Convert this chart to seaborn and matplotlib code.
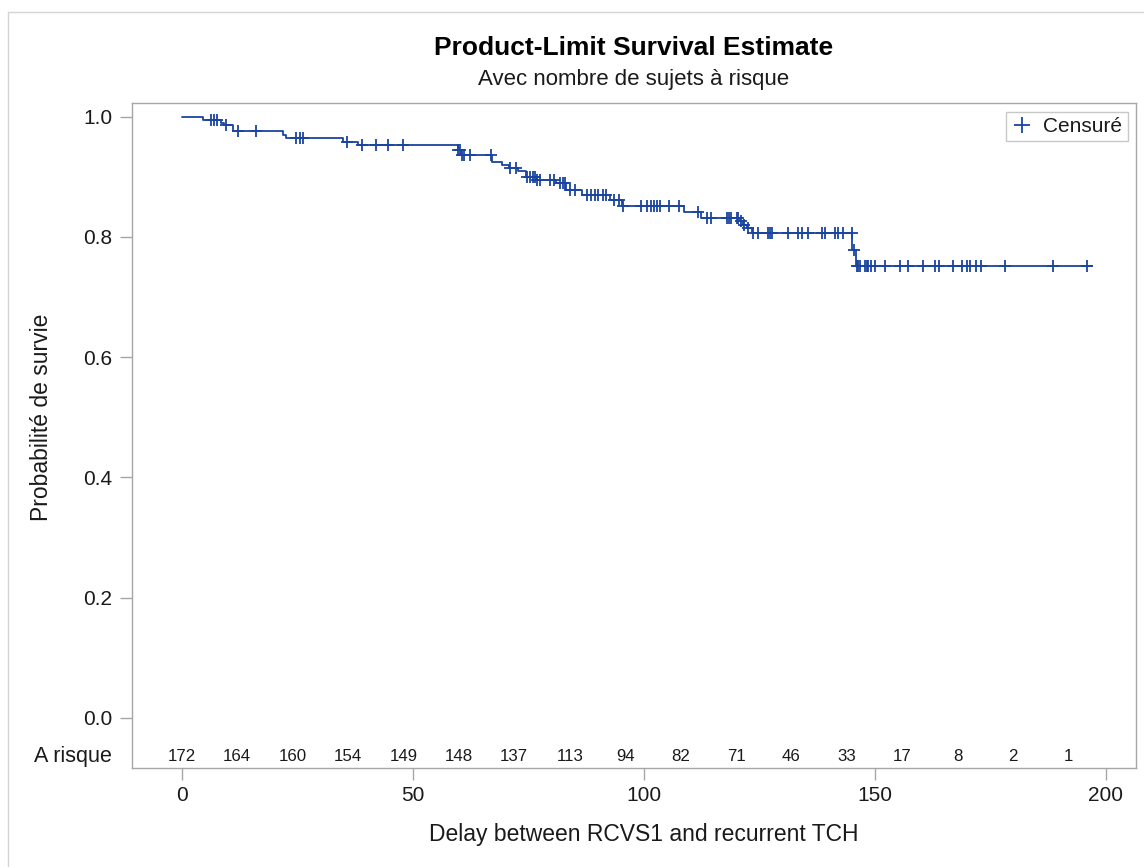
import numpy as np
import pandas as pd
import matplotlib
matplotlib.use("Agg")
import matplotlib.pyplot as plt
import seaborn as sns
from matplotlib.patches import Rectangle
from matplotlib.lines import Line2D

# ---- data ----
step_times = [0.0, 4.7, 8.5, 9.2, 11.2, 21.9, 22.5, 35.0, 38.2, 59.8, 60.5,
              67.1, 69.3, 70.8, 72.8, 74.6, 77.0, 81.0, 83.2, 86.6, 92.8,
              95.4, 108.7, 112.4, 120.8, 121.6, 122.4, 123.4, 145.2, 145.9]
step_surv = [1.000, 0.995, 0.990, 0.986, 0.976, 0.970, 0.964, 0.958, 0.952,
             0.944, 0.936, 0.924, 0.920, 0.914, 0.909, 0.900, 0.895, 0.890,
             0.878, 0.870, 0.861, 0.851, 0.842, 0.831, 0.826, 0.820, 0.815,
             0.806, 0.778, 0.752]
end_time = 197.0
censor_times = [6.3, 7.0, 7.6, 9.6, 12.3, 16.1, 24.7, 25.6, 26.3, 35.7, 39.0,
                42.0, 44.7, 48.0, 59.9, 60.2, 60.6, 61.1, 62.4, 67.0, 71.1,
                72.4, 74.7, 75.5, 76.0, 76.5, 77.0, 77.5, 79.7, 80.7, 82.0,
                82.5, 83.0, 84.1, 85.1, 87.7, 88.7, 89.5, 90.2, 91.2, 91.9,
                93.5, 94.6, 95.6, 99.4, 100.8, 101.5, 102.2, 102.9, 103.6,
                105.5, 107.6, 111.8, 113.8, 114.5, 118.0, 118.5, 119.0, 120.1,
                120.5, 121.0, 121.8, 122.6, 123.7, 124.8, 127.0, 127.3, 127.7,
                131.3, 133.5, 134.2, 135.6, 138.5, 139.2, 141.4, 142.1, 143.1,
                145.0, 145.6, 146.1, 146.4, 146.8, 147.9, 148.3, 148.6, 149.3,
                150.0, 152.2, 155.4, 157.3, 160.5, 163.0, 164.0, 167.0, 168.8,
                169.9, 170.6, 171.9, 173.1, 178.2, 188.7, 195.9]
risk_times = [0, 12, 24, 36, 48, 60, 72, 84, 96, 108, 120, 132, 144, 156,
              168, 180, 192]
risk_counts = [172, 164, 160, 154, 149, 148, 137, 113, 94, 82, 71, 46, 33,
               17, 8, 2, 1]
x_ticks = [0, 50, 100, 150, 200]
y_ticks = [0.0, 0.2, 0.4, 0.6, 0.8, 1.0]

title = "Product-Limit Survival Estimate"
subtitle = "Avec nombre de sujets à risque"
x_label = "Delay between RCVS1 and recurrent TCH"
y_label = "Probabilité de survie"
risk_label = "A risque"
legend_label = "Censuré"

# ---- style ----
BLUE = "#1A44A0"
GRAY = "#A6A6A6"
TXT = "#1a1a1a"

sns.set_style("white")
plt.rcParams["font.family"] = ["Liberation Sans", "DejaVu Sans"]

W, H = 1144, 867
fig = plt.figure(figsize=(W / 100, H / 100), dpi=100)
ax = fig.add_axes([131.7 / W, 1 - 767.7 / H, 1004 / W, 665 / H])

curve = pd.DataFrame({"t": step_times + [end_time],
                      "s": step_surv + [step_surv[-1]]})
sns.lineplot(data=curve, x="t", y="s", drawstyle="steps-post",
             estimator=None, sort=False, color=BLUE, lw=1.3, ax=ax)

idx = np.searchsorted(step_times, censor_times, side="right") - 1
cens = pd.DataFrame({"t": censor_times, "s": np.array(step_surv)[idx]})
sns.scatterplot(data=cens, x="t", y="s", marker="+", s=75, color=BLUE,
                linewidth=1.3, ax=ax, legend=False, zorder=3)

ax.set_xlim(-10.8, 206.5)
ax.set_ylim(-0.0827, 1.023)
ax.set_xticks(x_ticks)
ax.set_yticks(y_ticks)
ax.set_xticklabels([str(v) for v in x_ticks])
ax.set_yticklabels([f"{v:.1f}" for v in y_ticks])
ax.tick_params(axis="both", direction="out", length=8.4, width=1,
               color=GRAY, labelsize=15, labelcolor=TXT,
               bottom=True, left=True)
ax.tick_params(axis="x", pad=5)
ax.tick_params(axis="y", pad=5.5)
for sp in ax.spines.values():
    sp.set_visible(True)
    sp.set_color(GRAY)
    sp.set_linewidth(1)

ax.set_xlabel(x_label, fontsize=16.5, color=TXT, va="center")
ax.xaxis.set_label_coords((643.7 - 131.7) / 1004, (767.7 - 835) / 665)
ax.set_ylabel(y_label, fontsize=16.5, color=TXT, va="center")
ax.yaxis.set_label_coords((42 - 131.7) / 1004, (767.7 - 417) / 665)

# at-risk row
for t, n in zip(risk_times, risk_counts):
    ax.text(t, -0.0637, str(n), ha="center", va="center", fontsize=12.2,
            color=TXT)
ax.text(-0.0199, (767.7 - 756.3) / 665, risk_label, transform=ax.transAxes,
        ha="right", va="center", fontsize=15.5, color=TXT)

# legend
h = Line2D([], [], marker="+", linestyle="none", color=BLUE,
           markersize=11, markeredgewidth=1.3)
leg = ax.legend(handles=[h], labels=[legend_label], loc="upper right",
                bbox_to_anchor=(0.992, 0.9865), borderaxespad=0,
                frameon=True, fancybox=False, edgecolor="#C8C8C8",
                framealpha=1, fontsize=15, handlelength=1.1,
                handletextpad=0.47, borderpad=0.25)
leg.get_frame().set_linewidth(1)
for tx in leg.get_texts():
    tx.set_color(TXT)

# titles
fig.text((131.7 + 1135.7) / 2 / W, 1 - 48 / H, title, ha="center",
         va="center", fontsize=19, fontweight="bold", color="#000000")
fig.text((131.7 + 1135.7) / 2 / W, 1 - 80 / H, subtitle, ha="center",
         va="center", fontsize=16, color=TXT)

# outer light border
fig.add_artist(Rectangle((8 / W, -0.01), 1.1, 1 - 12 / H + 0.01,
                         transform=fig.transFigure, fill=False,
                         edgecolor="#D3D3D3", lw=1))

fig.savefig("out.png", dpi=100)
